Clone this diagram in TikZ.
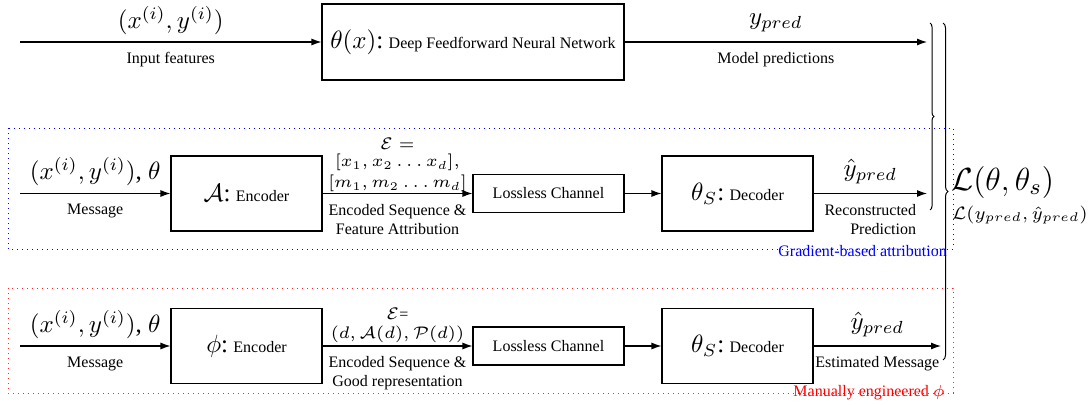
\RequirePackage{fix-cm}
\documentclass[tikz,border=0pt]{standalone}
\usepackage[no-math]{fontspec}
\setmainfont{Liberation Serif}
\usetikzlibrary{arrows.meta,decorations.pathreplacing,positioning}
\newcommand\ftxt{\fontsize{16}{19}\selectfont}
\newcommand\fbig{\fontsize{25}{30}\selectfont}
\newcommand\SM[2]{\scalebox{2.5}{\fontsize{#1}{#1}\selectfont$#2$}}
\begin{document}
\begin{tikzpicture}[x=1pt,y=-1pt,
  arr/.style={line width=1.1pt,-{Latex[length=10pt,width=7pt]}},
  blk/.style={draw,line width=1.1pt,inner sep=0pt,align=center,font=\ftxt},
  bigbox/.style={blk,minimum width=151pt,minimum height=75pt},
  chan/.style={blk,minimum width=151pt,minimum height=38pt},
  lbl/.style={inner sep=0pt,font=\ftxt,align=center},
  mlbl/.style={inner sep=0pt,font=\fbig},
  elbl/.style={inner sep=0pt,align=center,font=\fontsize{16}{21}\selectfont},
  dots/.style={line width=0.9pt,dash pattern=on 1pt off 4pt},
  brc/.style={line width=1pt,decorate,decoration={brace,amplitude=4pt}},
]
\useasboundingbox (0,0) rectangle (1091,404);

% ---------------- Row 1
\coordinate (in1) at (20,42);
\node[blk,minimum width=302pt,minimum height=76pt] (theta) at (473,42)
  {\SM{10}{\theta(x)}{\fbig:} Deep Feedforward Neural Network};
\coordinate (out1) at (927,42);
\draw[arr] (in1) -- node[mlbl,above=7pt] (l1a) {\SM{10}{(x^{(i)}, y^{(i)})}}
  node[lbl,below=10pt] (l1b) {Input features} (theta);
\draw[arr] (theta) -- node[mlbl,above=10pt] (l1c) {\SM{10}{y_{pred}}}
  node[lbl,below=10pt] (l1d) {Model predictions} (out1);

% ---------------- Row 2
\coordinate (in2) at (20,193.5);
\node[bigbox] (enc1) at (246.5,193.5) {\SM{10}{\mathcal{A}}{\fbig:} Encoder};
\node[chan] (lc1) at (548.5,193.5) {Lossless Channel};
\node[bigbox] (dec1) at (737.5,193.5) {\SM{10}{\theta_S}{\fbig:} Decoder};
\coordinate (out2) at (927,193.5);
\draw[arr] (in2) -- node[mlbl,above=7pt] (l2a) {\SM{10}{(x^{(i)}, y^{(i)})}, \SM{10}{\theta}}
  node[lbl,below=10pt] (l2b) {Message} (enc1);
\draw[arr] (enc1) -- node[elbl,above=1pt] (l2c)
  {\SM{6.7}{\mathcal{E} =}\\[-4pt]\SM{6.7}{[x_1, x_2 \dots x_d],}\\\SM{6.7}{[m_1, m_2 \dots m_d]}}
  node[lbl,below=10pt] (l2d) {Encoded Sequence \&\\Feature Attribution} (lc1);
\draw[arr] (lc1) -- (dec1);
\draw[arr] (dec1) -- node[mlbl,above=9pt] (l2e) {\SM{10}{\hat{y}_{pred}}}
  node[lbl,align=right,below=10pt] (l2f) {Reconstructed\\Prediction} (out2);

% ---------------- Row 3
\coordinate (in3) at (20,346);
\node[bigbox] (enc2) at (246.5,346) {\SM{10}{\phi}{\fbig:} Encoder};
\node[chan] (lc2) at (548.5,346) {Lossless Channel};
\node[bigbox] (dec2) at (737.5,346) {\SM{10}{\theta_S}{\fbig:} Decoder};
\coordinate (out3) at (941,346);
\draw[arr] (in3) -- node[mlbl,above=7pt] (l3a) {\SM{10}{(x^{(i)}, y^{(i)})}, \SM{10}{\theta}}
  node[lbl,below=10pt] (l3b) {Message} (enc2);
\draw[arr] (enc2) -- node[elbl,font=\fontsize{16}{19}\selectfont,above=3pt] (l3c)
  {\SM{6.7}{\mathcal{E}}=\\\SM{6.7}{(d, \mathcal{A}(d), \mathcal{P}(d))}}
  node[lbl,below=10pt] (l3d) {Encoded Sequence \&\\Good representation} (lc2);
\draw[arr] (lc2) -- (dec2);
\draw[arr] (dec2) -- node[mlbl,above=9pt] (l3e) {\SM{10}{\hat{y}_{pred}}}
  node[lbl,below=10pt] (l3f) {Estimated Message} (out3);

% ---------------- Groups
\draw[dots,blue] (8,128) rectangle (953,249);
\node[lbl,anchor=east,text=blue] (gba) at (947,251) {Gradient-based attribution};
\draw[dots,red!85] (8,288) rectangle (953,393);
\node[lbl,anchor=east,text=red] (mep) at (945,393) {Manually engineered \SM{6.4}{\phi}};

% ---------------- Braces and loss
\draw[brc] (930,23) -- (930,210);
\draw[brc,decoration={amplitude=5pt}] (943,23) -- (943,360);
\node[inner sep=0pt,anchor=base west] (loss) at (951,190)
  {\SM{12.8}{\mathcal{L}(\theta, \theta_s)}};
\node[inner sep=0pt,anchor=base west] (loss2) at (952,219)
  {\SM{7.2}{\mathcal{L}(y_{pred}, \hat{y}_{pred})}};
\end{tikzpicture}
\end{document}
